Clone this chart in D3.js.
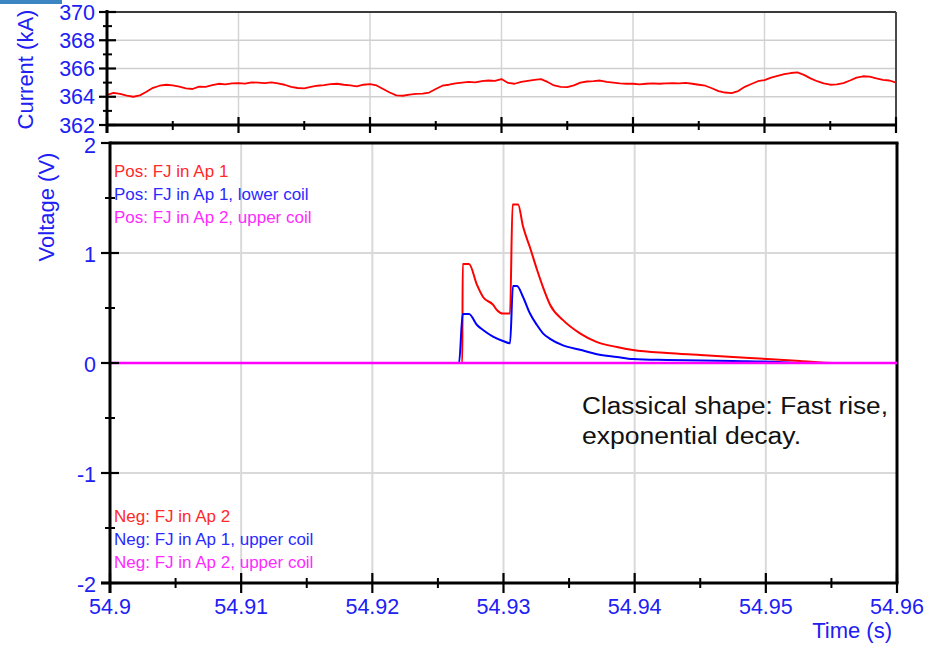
<!DOCTYPE html>
<html>
<head>
<meta charset="utf-8">
<script src="https://cdn.jsdelivr.net/npm/d3@7"></script>
<style>
  html, body { margin: 0; padding: 0; background: #fff; }
  svg { display: block; font-family: "Liberation Sans", Arial, sans-serif; }
</style>
</head>
<body>
<svg id="chart" width="928" height="645"></svg>
<script>
// ---------- DATA ----------
const timeTicks = [54.9, 54.91, 54.92, 54.93, 54.94, 54.95, 54.96];
const timeTickLabels = ["54.9", "54.91", "54.92", "54.93", "54.94", "54.95", "54.96"];
const timeMinorTicks = [54.905, 54.915, 54.925, 54.935, 54.945, 54.955];
const currentTicks = [362, 364, 366, 368, 370];
const currentMinorTicks = [363, 365, 367, 369];
const voltageTicks = [-2, -1, 0, 1, 2];
const voltageMinorTicks = [-1.5, -0.5, 0.5, 1.5];

// Current (kA), sampled every 0.5 ms from 54.900 s to 54.960 s
const currentStart = 54.9;
const currentStep = 0.0005;
const currentKA = [
  364.14, 364.27, 364.20, 364.08, 364.00, 364.10, 364.35, 364.63, 364.78, 364.85,
  364.80, 364.72, 364.60, 364.55, 364.72, 364.70, 364.82, 364.92, 364.88, 364.95,
  364.97, 364.93, 365.02, 365.00, 364.97, 365.02, 364.94, 364.85, 364.70, 364.62,
  364.60, 364.70, 364.78, 364.82, 364.90, 364.92, 364.85, 364.80, 364.74, 364.85,
  364.90, 364.80, 364.55, 364.30, 364.10, 364.07, 364.15, 364.20, 364.22, 364.30,
  364.55, 364.78, 364.85, 364.95, 365.00, 365.05, 365.02, 365.10, 365.15, 365.12,
  365.25, 364.98, 364.92, 365.05, 365.12, 365.20, 365.25, 365.05, 364.80, 364.70,
  364.68, 364.80, 365.00, 365.08, 365.10, 365.15, 365.05, 365.00, 364.95, 364.92,
  364.92, 364.88, 364.92, 364.95, 364.92, 364.95, 364.97, 364.95, 364.98, 364.92,
  364.85, 364.78, 364.60, 364.40, 364.30, 364.26, 364.40, 364.70, 364.90, 365.10,
  365.18, 365.35, 365.47, 365.60, 365.68, 365.72, 365.55, 365.30, 365.10, 364.95,
  364.85, 364.88, 364.97, 365.15, 365.35, 365.45, 365.42, 365.30, 365.20, 365.15,
  365.00
];

// Voltage (V) vs time (s)
const posAp1Time = [54.9, 54.92686, 54.92689, 54.92737, 54.92798, 54.92844, 54.92920, 54.92951, 54.92996, 54.93050, 54.93069, 54.93111, 54.93149, 54.93202, 54.93255, 54.93301, 54.93355, 54.93454, 54.93583, 54.93713, 54.93865, 54.93987, 54.94247, 54.94498, 54.94750, 54.95009, 54.95261, 54.95512, 54.96];
const posAp1V = [0, 0, 0.90, 0.90, 0.71, 0.60, 0.53, 0.48, 0.45, 0.45, 1.44, 1.44, 1.24, 1.05, 0.85, 0.69, 0.53, 0.39, 0.27, 0.19, 0.145, 0.118, 0.09, 0.073, 0.055, 0.036, 0.018, 0, 0];

const posAp1LowerTime = [54.9, 54.92661, 54.92689, 54.92737, 54.92798, 54.92844, 54.92920, 54.92996, 54.93050, 54.93072, 54.93103, 54.93149, 54.93202, 54.93255, 54.93301, 54.93355, 54.93454, 54.93583, 54.93713, 54.93865, 54.93987, 54.94247, 54.94750, 54.95100, 54.95261, 54.96];
const posAp1LowerV = [0, 0, 0.445, 0.445, 0.345, 0.30, 0.24, 0.20, 0.18, 0.70, 0.70, 0.60, 0.45, 0.345, 0.27, 0.22, 0.16, 0.12, 0.08, 0.055, 0.036, 0.027, 0.018, 0.01, 0, 0];

const posAp2UpperTime = [54.9, 54.93, 54.96];
const posAp2UpperV = [0, 0, 0];

const legendPos = ["Pos: FJ in Ap 1", "Pos: FJ in Ap 1, lower coil", "Pos: FJ in Ap 2, upper coil"];
const legendNeg = ["Neg: FJ in Ap 2", "Neg: FJ in Ap 1, upper coil", "Neg: FJ in Ap 2, upper coil"];
const seriesColors = ["#ff0000", "#0000ff", "#ff00ff"];
const legendColors = ["#ff2a2a", "#2a2aff", "#ff2aff"];
const annotation = ["Classical shape: Fast rise,", "exponential decay."];

// ---------- LAYOUT ----------
const svg = d3.select("#chart");
const blue = "#2020f4";
const font = 21.5;
const titleFont = 22;

const xTop = d3.scaleLinear().domain([54.9, 54.96]).range([107, 896]);
const yTop = d3.scaleLinear().domain([362, 370]).range([125, 12]);
const xBot = d3.scaleLinear().domain([54.9, 54.96]).range([110, 897]);
const yBot = d3.scaleLinear().domain([-2, 2]).range([583, 143]);

svg.append("rect").attr("x", 0).attr("y", 0).attr("width", 62).attr("height", 4).attr("fill", "#3b86c2");

// ---------- TOP PANEL ----------
const gT = svg.append("g");
gT.selectAll(".vg").data(timeTicks.slice(1, -1)).join("line")
  .attr("x1", d => xTop(d)).attr("x2", d => xTop(d))
  .attr("y1", yTop(370)).attr("y2", yTop(362))
  .attr("stroke", "#d4d4d4").attr("stroke-width", 1.5);
gT.selectAll(".hg").data([364, 366, 368]).join("line")
  .attr("x1", xTop.range()[0]).attr("x2", xTop.range()[1])
  .attr("y1", d => yTop(d)).attr("y2", d => yTop(d))
  .attr("stroke", "#cfcfcf").attr("stroke-width", 1.5);
gT.append("line").attr("x1", xTop.range()[0]).attr("x2", xTop.range()[1])
  .attr("y1", yTop(370)).attr("y2", yTop(370)).attr("stroke", "#3a3a3a").attr("stroke-width", 2);
gT.append("line").attr("x1", xTop.range()[1]).attr("x2", xTop.range()[1])
  .attr("y1", yTop(370)).attr("y2", yTop(362)).attr("stroke", "#4a4a4a").attr("stroke-width", 2);

const curData = currentKA.map((v, i) => [currentStart + i * currentStep, v]);
gT.append("path").datum(curData)
  .attr("fill", "none").attr("stroke", "#ff0000").attr("stroke-width", 1.8)
  .attr("stroke-linejoin", "round")
  .attr("d", d3.line().x(d => xTop(d[0])).y(d => yTop(d[1])));

gT.append("line").attr("x1", xTop(54.9)).attr("x2", xTop(54.9))
  .attr("y1", yTop(370) - 2).attr("y2", yTop(362) + 8).attr("stroke", "#000").attr("stroke-width", 3);
gT.append("line").attr("x1", xTop(54.9)).attr("x2", xTop(54.96))
  .attr("y1", yTop(362)).attr("y2", yTop(362)).attr("stroke", "#000").attr("stroke-width", 3);
gT.selectAll(".ymaj").data(currentTicks).join("line")
  .attr("x1", xTop(54.9) - 8).attr("x2", xTop(54.9) + 9)
  .attr("y1", d => yTop(d)).attr("y2", d => yTop(d)).attr("stroke", "#000").attr("stroke-width", 2.2);
gT.selectAll(".ymin").data(currentMinorTicks).join("line")
  .attr("x1", xTop(54.9) - 4).attr("x2", xTop(54.9) + 5)
  .attr("y1", d => yTop(d)).attr("y2", d => yTop(d)).attr("stroke", "#000").attr("stroke-width", 2);
gT.selectAll(".xmaj").data(timeTicks).join("line")
  .attr("x1", d => xTop(d)).attr("x2", d => xTop(d))
  .attr("y1", yTop(362) - 8).attr("y2", yTop(362) + 8).attr("stroke", "#000").attr("stroke-width", 2.2);
gT.selectAll(".xmin").data(timeMinorTicks).join("line")
  .attr("x1", d => xTop(d)).attr("x2", d => xTop(d))
  .attr("y1", yTop(362) - 4).attr("y2", yTop(362) + 5).attr("stroke", "#000").attr("stroke-width", 2);
gT.selectAll(".ylab").data(currentTicks).join("text")
  .attr("x", 95).attr("y", d => yTop(d) + 7.5)
  .attr("text-anchor", "end").attr("font-size", font).attr("fill", blue)
  .text(d => d);
gT.append("text").attr("transform", `translate(33,${(yTop(362) + yTop(370)) / 2 + 1}) rotate(-90)`)
  .attr("text-anchor", "middle").attr("font-size", titleFont).attr("fill", blue).text("Current (kA)");

// ---------- BOTTOM PANEL ----------
const gB = svg.append("g");
gB.selectAll(".vg").data(timeTicks.slice(1, -1)).join("line")
  .attr("x1", d => xBot(d)).attr("x2", d => xBot(d))
  .attr("y1", yBot(2)).attr("y2", yBot(-2))
  .attr("stroke", "#d9d9d9").attr("stroke-width", 2);
gB.selectAll(".hg").data([1, 0, -1]).join("line")
  .attr("x1", xBot.range()[0]).attr("x2", xBot.range()[1])
  .attr("y1", d => yBot(d)).attr("y2", d => yBot(d))
  .attr("stroke", "#d9d9d9").attr("stroke-width", 2);
gB.append("line").attr("x1", xBot.range()[0]).attr("x2", xBot.range()[1] + 1.5)
  .attr("y1", yBot(2)).attr("y2", yBot(2)).attr("stroke", "#000").attr("stroke-width", 3);
gB.append("line").attr("x1", xBot.range()[1]).attr("x2", xBot.range()[1])
  .attr("y1", yBot(2)).attr("y2", yBot(-2)).attr("stroke", "#000").attr("stroke-width", 3);

gB.selectAll(".lp").data(legendPos).join("text")
  .attr("x", 114).attr("y", (d, i) => 177 + i * 23)
  .attr("font-size", 17).attr("fill", (d, i) => legendColors[i]).text(d => d);
gB.selectAll(".ln").data(legendNeg).join("text")
  .attr("x", 114).attr("y", (d, i) => 522 + i * 23)
  .attr("font-size", 17).attr("fill", (d, i) => legendColors[i]).text(d => d);

const lineB = d3.line().x(d => xBot(d[0])).y(d => yBot(d[1])).curve(d3.curveMonotoneX);
const series = [
  { t: posAp1Time, v: posAp1V, w: 2 },
  { t: posAp1LowerTime, v: posAp1LowerV, w: 2 },
  { t: posAp2UpperTime, v: posAp2UpperV, w: 2.6 }
];
series.forEach((s, i) => {
  gB.append("path").datum(s.t.map((t, j) => [t, s.v[j]]))
    .attr("fill", "none").attr("stroke", seriesColors[i]).attr("stroke-width", s.w)
    .attr("stroke-linejoin", "round").attr("d", lineB);
});

const annLen = [306, 219];
gB.selectAll(".ann").data(annotation).join("text")
  .attr("x", 582).attr("y", (d, i) => 414 + i * 30)
  .attr("font-size", 23.5).attr("fill", "#111")
  .attr("textLength", (d, i) => annLen[i]).attr("lengthAdjust", "spacingAndGlyphs")
  .text(d => d);

gB.append("line").attr("x1", xBot(54.9)).attr("x2", xBot(54.9))
  .attr("y1", yBot(2) - 1.5).attr("y2", yBot(-2) + 10).attr("stroke", "#000").attr("stroke-width", 3);
gB.append("line").attr("x1", xBot(54.9) - 9).attr("x2", xBot(54.96) + 1.5)
  .attr("y1", yBot(-2)).attr("y2", yBot(-2)).attr("stroke", "#000").attr("stroke-width", 3);
gB.selectAll(".ymaj").data(voltageTicks).join("line")
  .attr("x1", xBot(54.9) - 9).attr("x2", xBot(54.9) + 9)
  .attr("y1", d => yBot(d)).attr("y2", d => yBot(d)).attr("stroke", "#000").attr("stroke-width", 2.2);
gB.selectAll(".ymin").data(voltageMinorTicks).join("line")
  .attr("x1", xBot(54.9) - 5).attr("x2", xBot(54.9) + 5)
  .attr("y1", d => yBot(d)).attr("y2", d => yBot(d)).attr("stroke", "#000").attr("stroke-width", 2);
gB.selectAll(".xmaj").data(timeTicks).join("line")
  .attr("x1", d => xBot(d)).attr("x2", d => xBot(d))
  .attr("y1", yBot(-2) - 10).attr("y2", yBot(-2) + 10).attr("stroke", "#000").attr("stroke-width", 2.2);
gB.selectAll(".xmin").data(timeMinorTicks).join("line")
  .attr("x1", d => xBot(d)).attr("x2", d => xBot(d))
  .attr("y1", yBot(-2) - 5).attr("y2", yBot(-2) + 5).attr("stroke", "#000").attr("stroke-width", 2);
gB.selectAll(".ylab").data(voltageTicks).join("text")
  .attr("x", 96).attr("y", d => yBot(d) + (d === 2 ? 10 : 8.5))
  .attr("text-anchor", "end").attr("font-size", font).attr("fill", blue)
  .text(d => d);
gB.selectAll(".xlab").data(timeTicks).join("text")
  .attr("x", d => xBot(d)).attr("y", 614)
  .attr("text-anchor", "middle").attr("font-size", font).attr("fill", blue)
  .text((d, i) => timeTickLabels[i]);
gB.append("text").attr("transform", `translate(54,${(yBot(2) + yBot(1)) / 2 + 9}) rotate(-90)`)
  .attr("text-anchor", "middle").attr("font-size", titleFont).attr("fill", blue).text("Voltage (V)");
gB.append("text").attr("x", 892).attr("y", 638)
  .attr("text-anchor", "end").attr("font-size", titleFont).attr("fill", blue).text("Time (s)");
</script>
</body>
</html>
